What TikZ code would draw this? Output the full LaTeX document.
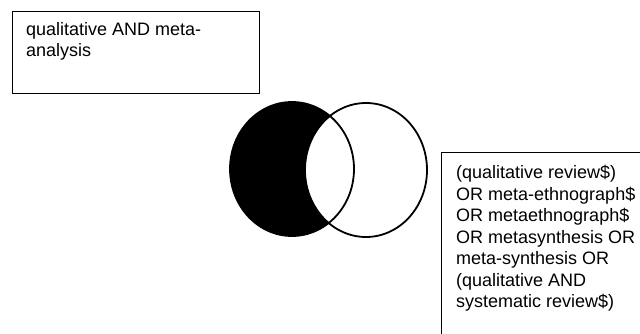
\documentclass[tikz,border=0pt]{standalone}
\usepackage{fontspec}
\setmainfont{Liberation Sans}
\begin{document}
\begin{tikzpicture}[x=1pt,y=-1pt,
  boxframe/.style={draw=black,line width=1.3pt,inner sep=0pt,anchor=north west},
  boxtext/.style={font=\fontsize{18}{21.5}\selectfont,align=left,inner sep=0pt,anchor=north west},
  ring/.style={line width=1.8pt}]
\useasboundingbox (0,0) rectangle (640,334);
\clip (0,0) rectangle (640,334);
\fill[white] (0,0) rectangle (640,334);
% top-left box
\node[boxframe,minimum width=247pt,minimum height=82pt] (box1) at (12,11) {};
\node[boxtext] (t1) at (26,22) {qualitative AND meta-\\analysis};
% right box (cut by the picture edge)
\node[boxframe,minimum width=230pt,minimum height=200pt] (box2) at (441,152) {};
\node[boxtext] (t2) at (456,165) {(qualitative review\$)\\OR meta-ethnograph\$\\OR metaethnograph\$\\OR metasynthesis OR\\meta-synthesis OR\\(qualitative AND\\systematic review\$)};
% Venn
\coordinate (cl) at (292,169);
\coordinate (cr) at (366,170);
\fill[black] (cl) ellipse [x radius=62, y radius=67];
\fill[white] (cr) ellipse [x radius=61, y radius=67];
\draw[ring] (cr) ellipse [x radius=61, y radius=67];
\draw[ring] (cl) ellipse [x radius=62, y radius=67];
\end{tikzpicture}
\end{document}
